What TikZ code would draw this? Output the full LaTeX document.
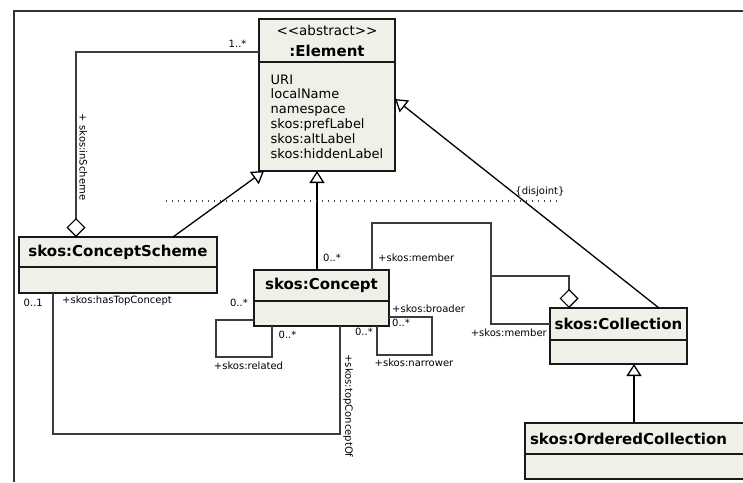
\documentclass[tikz,border=0pt]{standalone}
\usepackage{fontspec}
\newfontfamily\umlfont{DejaVu Sans}
\usetikzlibrary{positioning, arrows.meta}
\definecolor{classfill}{RGB}{240,239,232}
\definecolor{linegray}{RGB}{60,60,60}
\tikzset{
  umlhead/.style={draw=black!90, line width=1.2pt, fill=classfill, inner sep=0pt, outer sep=0pt,
    font=\umlfont\fontsize{15}{18}\selectfont\bfseries},
  umlbody/.style={draw=black!90, line width=1.2pt, fill=classfill, inner sep=0pt, outer sep=0pt},
  assoc/.style={draw=linegray, line width=1.1pt},
  gen/.style={draw=black, line width=1.3pt, -{Triangle[open, length=12pt, width=15pt]}},
  agg/.style={{Diamond[open, length=19pt, width=19pt, line width=1.2pt, color=black]}-},
  mult/.style={font=\umlfont\fontsize{10}{12}\selectfont, inner sep=0pt, text=black},
  rolev/.style={mult, rotate=-90, anchor=south, inner sep=3pt},
  pageframe/.style={draw=black!80, line width=1.5pt},
}

\begin{document}
\begin{tikzpicture}[x=1pt, y=-1pt]
  \useasboundingbox (0,0) rectangle (743,482);
  \draw[pageframe] (743,11) -- (14,11) -- (14,482);

  % classes
  \node[umlhead, minimum width=136pt, minimum height=43pt, align=center] (elemH) at (327,40.5)
    {{\fontsize{13.5}{18}\selectfont\mdseries <<abstract>>}\\[3pt]:Element};
  \node[umlbody, minimum width=136pt, minimum height=109pt, below=0pt of elemH, align=left,
    font=\umlfont\fontsize{13}{14.8}\selectfont] (elem)
    {URI\\localName\\namespace\\skos:prefLabel\\skos:altLabel\\skos:hiddenLabel};

  \node[umlhead, minimum width=198pt, minimum height=30pt] (schemeH) at (118,252) {skos:ConceptScheme};
  \node[umlbody, minimum width=198pt, minimum height=26pt, below=0pt of schemeH] (scheme) {};

  \node[umlhead, minimum width=135pt, minimum height=31pt] (conceptH) at (321.5,285.5) {skos:Concept};
  \node[umlbody, minimum width=135pt, minimum height=25pt, below=0pt of conceptH] (concept) {};

  \node[umlhead, minimum width=137pt, minimum height=32pt] (collH) at (618.5,324) {skos:Collection};
  \node[umlbody, minimum width=137pt, minimum height=24pt, below=0pt of collH] (coll) {};

  \node[umlhead, minimum width=230pt, minimum height=31pt, text width=220pt, align=left] (ordH) at (640,438.5)
    {skos:OrderedCollection};
  \node[umlbody, minimum width=230pt, minimum height=25pt, below=0pt of ordH] (ord) {};

  % generalizations
  \draw[gen] ([xshift=55pt]schemeH.north) -- ([xshift=-63pt]elem.south);
  \draw[gen] ([xshift=-4.5pt]conceptH.north) -- ([xshift=-4.5pt]conceptH.north |- elem.south);
  \draw[gen] ([xshift=40.5pt]collH.north) -- ([yshift=17.5pt]elem.east);
  \draw[gen] ([xshift=-6pt]ordH.north) -- ([xshift=-6pt]ordH.north |- coll.south);

  \coordinate (dotL) at (166,201);
  \coordinate (dotR) at (560,201);
  \draw[black!75, line width=1.1pt, dash pattern=on 1.1pt off 4.9pt] (dotL) -- (dotR)
    node[mult, anchor=south east, xshift=5pt, yshift=4pt] (disj) {\{disjoint\}};

  % skos:inScheme
  \draw[assoc, agg] ([xshift=-42pt]schemeH.north) |- ([yshift=-11.5pt]elemH.west)
    node[mult, anchor=south east, xshift=-12pt, yshift=4pt] (inSchemeM) {1..*}
    node[rolev, pos=0.216] (inSchemeR) {+ skos:inScheme};

  % skos:hasTopConcept / skos:topConceptOf
  \draw[assoc] ([xshift=-65pt]scheme.south) -- ++(0,141) -| ([xshift=18.5pt]concept.south);
  \node[mult, anchor=north east] (topM) at ([xshift=-75pt, yshift=-6pt]scheme.south) {0..1};
  \node[mult, anchor=north west] (hasTopR) at ([xshift=-56pt, yshift=-3pt]scheme.south) {+skos:hasTopConcept};
  \node[rolev] (topOfR) at ([xshift=18.5pt, yshift=-80pt]concept.south) {+skos:topConceptOf};

  % skos:related
  \draw[assoc] ([yshift=-6.5pt]concept.west) -- ++(-38,0) -- ++(0,37) -- ++(56,0)
    -- ([xshift=-49.5pt]concept.south);
  \node[mult, anchor=south east] (relM1) at ([xshift=-6pt, yshift=7pt]concept.west) {0..*};
  \node[mult, anchor=north west] (relM2) at ([xshift=-43pt, yshift=-5pt]concept.south) {0..*};
  \node[mult, anchor=north] (relR) at ([xshift=-73pt, yshift=-36pt]concept.south) {+skos:related};

  % skos:broader / skos:narrower
  \draw[assoc] ([yshift=-3.5pt]concept.east) -- ++(43,0) -- ++(0,38) -- ++(-55,0)
    -- ([xshift=55.5pt]concept.south);
  \node[mult, anchor=south west] (broadR) at ([xshift=3pt, yshift=1pt]concept.east) {+skos:broader};
  \node[mult, anchor=north west] (broadM) at ([xshift=3pt, yshift=-5pt]concept.east) {0..*};
  \node[mult, anchor=north east] (narM) at ([xshift=51.5pt, yshift=-2pt]concept.south) {0..*};
  \node[mult, anchor=north west] (narR) at ([xshift=53pt, yshift=-33pt]concept.south) {+skos:narrower};

  % skos:member
  \coordinate (memtop) at (491,223);
  \coordinate (memjoin) at (491,276);
  \draw[assoc] ([xshift=50.5pt]conceptH.north) |- (memtop) |- (collH.west);
  \draw[assoc, agg] ([xshift=-49.5pt]collH.north) |- (memjoin);
  \node[mult, anchor=south west] (memR1) at ([xshift=56.5pt, yshift=8pt]conceptH.north) {+skos:member};
  \node[mult, anchor=south west] (memM1) at ([xshift=1.5pt, yshift=8pt]conceptH.north) {0..*};
  \node[mult, anchor=north east] (memR2) at ([xshift=-3pt, yshift=-5pt]collH.west) {+skos:member};
\end{tikzpicture}
\end{document}
